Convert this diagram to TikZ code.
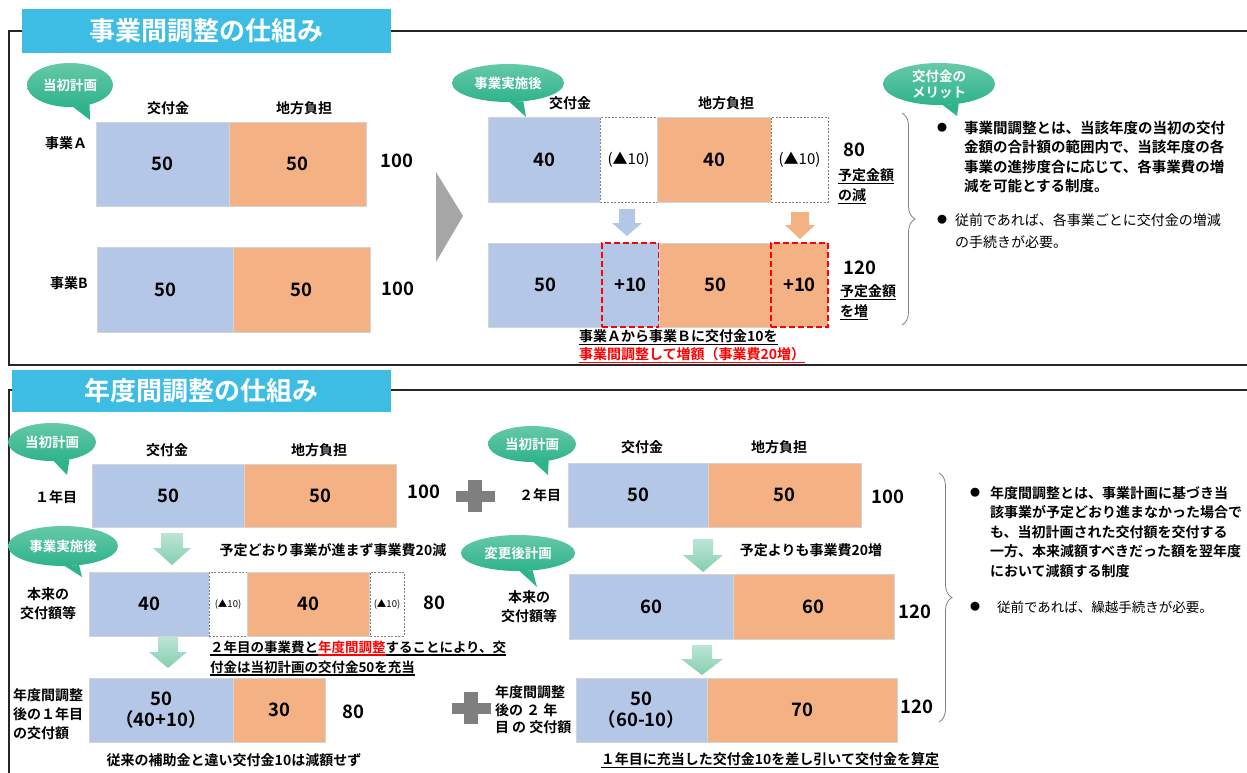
\documentclass[tikz,border=0pt]{standalone}
\usepackage{fontspec}
\setmainfont{Noto Sans CJK JP}[BoldFont={Noto Sans CJK JP Bold}]
\usetikzlibrary{shapes.geometric,decorations.pathreplacing}
\pgfdeclarelayer{bg}
\pgfsetlayers{bg,main}
\definecolor{hdr}{HTML}{3DBDE3}
\definecolor{bfill}{HTML}{B4C7E7}
\definecolor{ofill}{HTML}{F4B183}
\definecolor{bubtop}{HTML}{66C9A7}
\definecolor{bubbot}{HTML}{2EB38B}
\definecolor{arrtop}{HTML}{BCE5D4}
\definecolor{arrbot}{HTML}{84CFB0}
\definecolor{plusg}{HTML}{7F7F7F}
\definecolor{chev}{HTML}{A6A6A6}
\definecolor{boxln}{HTML}{D4D4D4}
\newsavebox\ulbox
\newcommand\myul[1]{\sbox\ulbox{#1}\rlap{\rule[-3.5pt]{\wd\ulbox}{1.1pt}}\usebox\ulbox}
\newcommand{\bx}[7]{\node[#2, minimum width={(#5-#3)*1pt}, minimum height={(#6-#4)*1pt}, anchor=north west] (#1) at (#3,#4) {#7};}
\newcommand{\DArrow}[7]{\path[#1] ({#2-#5/2},#3) -- ({#2+#5/2},#3) -- ({#2+#5/2},{#4-#7}) -- ({#2+#6/2},{#4-#7}) -- (#2,#4) -- ({#2-#6/2},{#4-#7}) -- ({#2-#5/2},{#4-#7}) -- cycle;}
\newcommand{\Plus}[2]{\fill[plusg] ({#1-19.5},{#2-5.5}) rectangle ({#1+19.5},{#2+5.5}); \fill[plusg] ({#1-7},{#2-16}) rectangle ({#1+7},{#2+16});}
\newcommand{\Tail}[4]{\begin{pgfonlayer}{bg}\fill[bubbot] (#1.#2) -- #4 -- (#1.#3) -- cycle;\end{pgfonlayer}}
\tikzset{
 every node/.style={inner sep=0pt, outer sep=0pt},
 lbl/.style={font=\fontsize{14}{17}\selectfont\bfseries},
 lbl2/.style={font=\fontsize{14}{19}\selectfont\bfseries, align=center},
 num/.style={font=\fontsize{18.5}{22}\selectfont\bfseries},
 bbox/.style={draw=boxln, line width=1pt, fill=bfill, font=\fontsize{18.5}{21}\selectfont\bfseries, align=center},
 obox/.style={bbox, fill=ofill},
 dbox/.style={draw=gray, dash pattern=on 2pt off 1.5pt, line width=0.8pt, fill=white, font=\fontsize{15}{17}\selectfont},
 sdbox/.style={dbox, font=\fontsize{9.5}{11}\selectfont},
 rbox/.style={draw=red, dash pattern=on 6pt off 3pt, line width=2pt, font=\fontsize{18.5}{21}\selectfont\bfseries},
 bubble/.style={ellipse, top color=bubtop, bottom color=bubbot, text=white, font=\fontsize{13.5}{16}\selectfont\bfseries, align=center},
 title/.style={fill=hdr, text=white, font=\fontsize{26}{30}\selectfont\bfseries},
 frame/.style={line width=2pt, draw=black!85},
 brace/.style={decorate, decoration={brace, amplitude=13pt}, draw=gray, line width=0.8pt},
 greenarr/.style={top color=arrtop, bottom color=arrbot},
 bul/.style={font=\fontsize{10}{12}\selectfont},
}
\begin{document}
\begin{tikzpicture}[x=1pt,y=-1pt]
\useasboundingbox (0,0) rectangle (1247,772);
\begin{pgfonlayer}{bg}\fill[white] (0,0) rectangle (1247,772);\end{pgfonlayer}
% frames
\draw[frame] (1252,31) -- (9,31) -- (9,365) -- (1252,365);
\draw[frame] (1252,390) -- (9,390) -- (9,776);
% ===== top section =====
\node[title, minimum width=369pt, minimum height=44pt, anchor=north west] (t1) at (22,9) {事業間調整の仕組み};
\node[bubble, minimum width=86pt, minimum height=44pt] (bu1) at (70,85) {当初計画};
\Tail{bu1}{-82}{-45}{(90,120)}
\node[lbl] (h1) at (168,108) {交付金};
\node[lbl] (h2) at (304,108) {地方負担};
\node[lbl] (la) at (66,143) {事業Ａ};
\node[lbl] (lb) at (69,283) {事業B};
\bx{a1}{bbox}{96}{122}{229}{206}{50}
\bx{a2}{obox}{229}{122}{366}{206}{50}
\bx{b1}{bbox}{97}{247}{233}{332}{50}
\bx{b2}{obox}{233}{247}{370}{332}{50}
\node[num] (sa) at (397,161) {100};
\node[num] (sb) at (398,289) {100};
\fill[chev] (436,172) -- (463,216) -- (436,262) -- cycle;
\node[bubble, minimum width=112pt, minimum height=38pt] (bu2) at (508,83) {事業実施後};
\Tail{bu2}{-85}{-50}{(526,117)}
\node[lbl] (h3) at (570,103) {交付金};
\node[lbl] (h4) at (726,103) {地方負担};
\bx{c1}{bbox}{488}{117}{600}{202}{40}
\bx{c2}{dbox}{600}{117}{657}{202}{(▲10)}
\bx{c3}{obox}{657}{117}{771}{202}{40}
\bx{c4}{dbox}{771}{117}{828}{202}{(▲10)}
\DArrow{fill=bfill}{627}{209}{236}{16}{30}{13}
\DArrow{fill=ofill}{800}{212}{239}{18}{30}{14}
\bx{d1}{bbox}{488}{243}{602}{327}{50}
\bx{d2}{rbox, fill=bfill}{602}{243}{659}{327}{+10}
\bx{d3}{obox}{659}{243}{771}{327}{50}
\bx{d4}{rbox, fill=ofill}{771}{243}{828}{327}{+10}
\node[num] (r80) at (854,150) {80};
\node[lbl, anchor=west] (r1) at (838,176) {\myul{予定金額}};
\node[lbl, anchor=west] (r2) at (838,196) {\myul{の減}};
\node[num] (r120) at (860,268) {120};
\node[lbl, anchor=west] (r3) at (840,292) {\myul{予定金額}};
\node[lbl, anchor=west] (r4) at (840,312) {\myul{を増}};
\node[lbl, anchor=west] (m1) at (579,337) {\myul{事業Ａから事業Ｂに交付金10を}};
\node[lbl, anchor=west, text=red] (m2) at (579,355) {\myul{事業間調整して増額（事業費20増）}};
\draw[brace] (902,113) -- (902,325);
\node[bubble, minimum width=112pt, minimum height=42pt] (bu3) at (939,84) {交付金の\\メリット};
\Tail{bu3}{-80}{-45}{(957,116)}
\node[bul] (p1b) at (942,128) {●};
\node[font=\fontsize{14.5}{19.2}\selectfont\bfseries, anchor=west, align=left] (p1) at (964,157) {事業間調整とは、当該年度の当初の交付\\金額の合計額の範囲内で、当該年度の各\\事業の進捗度合に応じて、各事業費の増\\減を可能とする制度。};
\node[bul] (p2b) at (942,220) {●};
\node[font=\fontsize{14}{21.5}\selectfont, anchor=west, align=left] (p2) at (955,231) {従前であれば、各事業ごとに交付金の増減\\の手続きが必要。};
% ===== bottom section =====
\node[title, minimum width=379pt, minimum height=42pt, anchor=north west] (t2) at (12,370) {年度間調整の仕組み};
\node[bubble, minimum width=88pt, minimum height=38pt] (bu4) at (52,442) {当初計画};
\Tail{bu4}{-85}{-45}{(67,475)}
\node[lbl] (h5) at (167,450) {交付金};
\node[lbl] (h6) at (319,450) {地方負担};
\node[lbl] (y1) at (56,497) {１年目};
\bx{e1}{bbox}{92}{464}{244}{527}{50}
\bx{e2}{obox}{244}{464}{396}{527}{50}
\node[num] (s1) at (424,492) {100};
\Plus{475}{496}
\node[bubble, minimum width=88pt, minimum height=36pt] (bu5) at (532,444) {当初計画};
\Tail{bu5}{-85}{-45}{(548,475)}
\node[lbl] (h7) at (642,447) {交付金};
\node[lbl] (h8) at (779,447) {地方負担};
\node[lbl] (y2) at (540,495) {２年目};
\bx{f1}{bbox}{568}{463}{708}{527}{50}
\bx{f2}{obox}{708}{463}{861}{527}{50}
\node[num] (s2) at (888,497) {100};
\DArrow{greenarr}{172}{533}{565}{22}{38}{17}
\node[lbl] (g1) at (333,550) {予定どおり事業が進まず事業費20減};
\DArrow{greenarr}{703}{539}{572}{20}{40}{17}
\node[lbl] (g2) at (811,550) {予定よりも事業費20増};
\node[bubble, minimum width=110pt, minimum height=40pt] (bu6) at (63,546) {事業実施後};
\Tail{bu6}{-85}{-50}{(82,577)}
\node[lbl2] (q1) at (48,604) {本来の\\交付額等};
\bx{h1b}{bbox}{89}{572}{209}{636}{40}
\bx{h2b}{sdbox}{209}{572}{247}{636}{(▲10)}
\bx{h3b}{obox}{247}{572}{369}{636}{40}
\bx{h4b}{sdbox}{370}{572}{404}{636}{(▲10)}
\node[num] (s3) at (434,603) {80};
\node[bubble, minimum width=114pt, minimum height=36pt] (bu7) at (518,553) {変更後計画};
\Tail{bu7}{-85}{-50}{(537,587)}
\node[lbl2] (q2) at (529,607) {本来の\\交付額等};
\bx{m1b}{bbox}{569}{574}{733}{639}{60}
\bx{m2b}{obox}{733}{574}{894}{639}{60}
\node[num] (s4) at (915,612) {120};
\DArrow{greenarr}{168}{637}{668}{20}{38}{16}
\DArrow{greenarr}{702}{645}{675}{20}{42}{16}
\node[font=\fontsize{13.5}{17}\selectfont\bfseries, anchor=west] (k1) at (210,648) {\myul{２年目の事業費と}\textcolor{red}{\myul{年度間調整}}\myul{することにより、交}};
\node[font=\fontsize{13.5}{17}\selectfont\bfseries, anchor=west] (k2) at (210,668) {\myul{付金は当初計画の交付金50を充当}};
\node[lbl2, align=left, anchor=west] (q3) at (13,714) {年度間調整\\後の１年目\\の交付額};
\bx{j1}{bbox}{89}{678}{233}{742}{50\\（40+10）}
\bx{j2}{obox}{233}{678}{325}{742}{30}
\node[num] (s5) at (353,712) {80};
\node[lbl] (j3) at (234,760) {従来の補助金と違い交付金10は減額せず};
\Plus{471}{708}
\node[font=\fontsize{14}{17.5}\selectfont\bfseries, align=left, anchor=west] (q4) at (495,710) {年度間調整\\後の ２ 年\\目 の 交付額};
\bx{n1}{bbox}{576}{678}{707}{742}{50\\（60-10）}
\bx{n2}{obox}{707}{678}{897}{742}{70}
\node[num] (s6) at (917,707) {120};
\node[lbl] (n3) at (770,760) {\myul{１年目に充当した交付金10を差し引いて交付金を算定}};
\draw[brace] (939,473) -- (939,722);
\node[bul] (p3b) at (975,493) {●};
\node[font=\fontsize{14}{19.5}\selectfont\bfseries, anchor=west, align=left] (p3) at (990,532) {年度間調整とは、事業計画に基づき当\\該事業が予定どおり進まなかった場合で\\も、当初計画された交付額を交付する\\一方、本来減額すべきだった額を翌年度\\において減額する制度};
\node[bul] (p4b) at (975,607) {●};
\node[font=\fontsize{13.5}{17}\selectfont, anchor=west] (p4) at (997,607) {従前であれば、繰越手続きが必要。};
\end{tikzpicture}
\end{document}
